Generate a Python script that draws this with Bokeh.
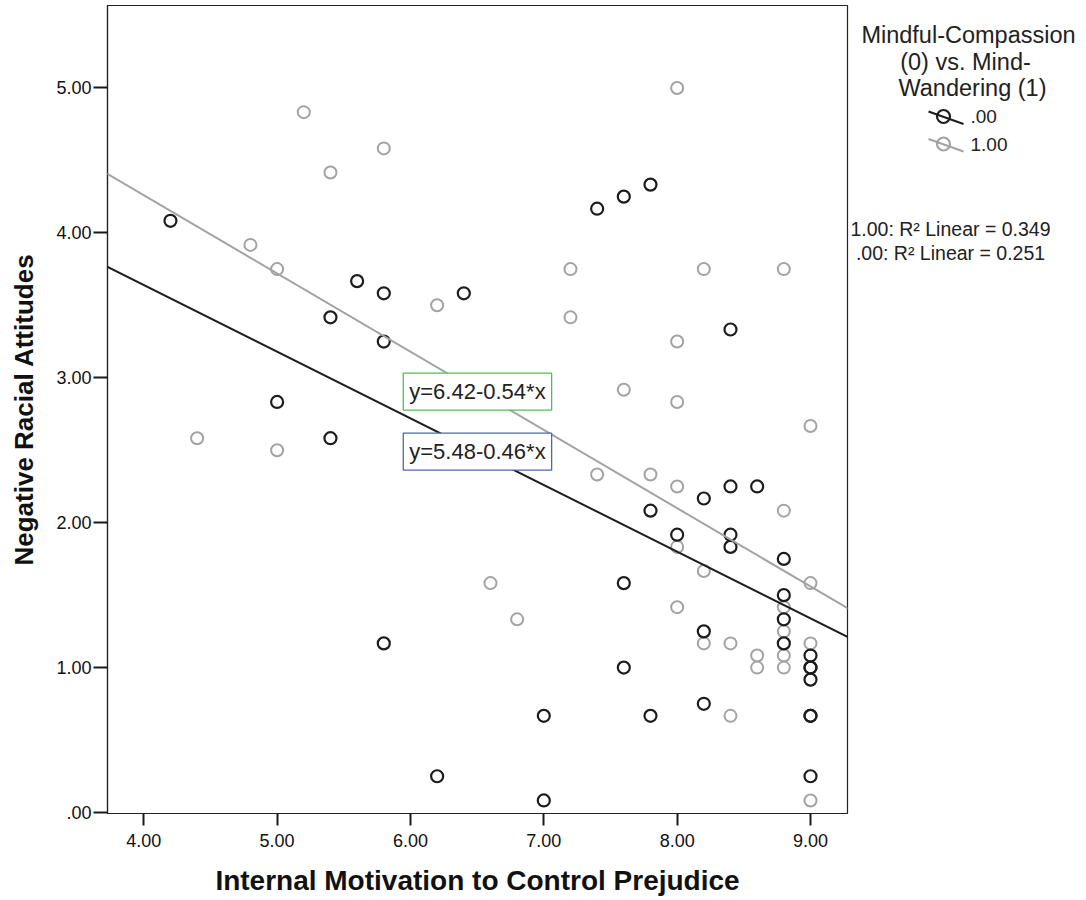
from bokeh.plotting import figure
from bokeh.models import Range1d, FixedTicker, Slope, Label
from bokeh.layouts import row
from bokeh.embed import file_html
from bokeh.resources import INLINE
from bokeh.core.properties import value

# ---------------- data ----------------
# Group .00 (Mindful-Compassion)
group0_x = [4.2, 5.0, 5.4, 5.4, 5.6, 5.8, 5.8, 5.8, 6.2, 6.4, 7.0, 7.0, 7.4, 7.6, 7.6, 7.6,
            7.8, 7.8, 7.8, 8.0, 8.2, 8.2, 8.2, 8.4, 8.4, 8.4, 8.4, 8.6, 8.8, 8.8, 8.8, 8.8,
            9.0, 9.0, 9.0, 9.0, 9.0, 9.0, 9.0]
group0_y = [4.083, 2.833, 3.417, 2.583, 3.667, 3.583, 3.25, 1.167, 0.25, 3.583, 0.667, 0.083,
            4.167, 4.25, 1.583, 1.0, 4.333, 2.083, 0.667, 1.917, 2.167, 1.25, 0.75, 3.333,
            2.25, 1.917, 1.833, 2.25, 1.75, 1.5, 1.333, 1.167, 1.083, 1.0, 1.0, 0.917,
            0.667, 0.667, 0.25]

# Group 1.00 (Mind-Wandering)
group1_x = [4.4, 4.8, 5.0, 5.0, 5.2, 5.4, 5.8, 6.2, 6.6, 6.8, 7.2, 7.2, 7.4, 7.6, 7.8,
            8.0, 8.0, 8.0, 8.0, 8.0, 8.0, 8.2, 8.2, 8.2, 8.4, 8.4, 8.6, 8.6,
            8.8, 8.8, 8.8, 8.8, 8.8, 8.8, 9.0, 9.0, 9.0, 9.0]
group1_y = [2.583, 3.917, 3.75, 2.5, 4.833, 4.417, 4.583, 3.5, 1.583, 1.333, 3.75, 3.417,
            2.333, 2.917, 2.333, 5.0, 3.25, 2.833, 2.25, 1.833, 1.417, 3.75, 1.667, 1.167,
            1.167, 0.667, 1.083, 1.0, 3.75, 2.083, 1.417, 1.25, 1.083, 1.0, 2.667, 1.583,
            1.167, 0.083]

# Linear fits (from the chart's equations)
fit0_intercept, fit0_slope = 5.48, -0.46
fit1_intercept, fit1_slope = 6.42, -0.54
fit0_text = "y=5.48-0.46*x"
fit1_text = "y=6.42-0.54*x"
r2_labels = ["1.00", ".00"]
r2_values = [0.349, 0.251]

x_ticks = [4, 5, 6, 7, 8, 9]
x_tick_labels = ["4.00", "5.00", "6.00", "7.00", "8.00", "9.00"]
y_ticks = [0, 1, 2, 3, 4, 5]
y_tick_labels = [".00", "1.00", "2.00", "3.00", "4.00", "5.00"]

x_title = "Internal Motivation to Control Prejudice"
y_title = "Negative Racial Attitudes"
legend_title_lines = ["Mindful-Compassion", "(0) vs. Mind-", "Wandering (1)"]
group_labels = [".00", "1.00"]

BLACK = "#1c1c1c"
GRAY = "#a3a3a3"
TXT = "#222222"
FONT = "Liberation Sans"

# canvas geometry (page has no margin in Bokeh's template)
H = 900
TOP_B, BOT_B = 5, 87
FRAME_TOP = TOP_B
FRAME_BOT = H - BOT_B
MAIN_W = 849

# ---------------- main plot ----------------
p = figure(width=MAIN_W, height=H,
           x_range=Range1d(3.728, 9.2775), y_range=Range1d(-0.0069, 5.569),
           output_backend="svg", toolbar_location=None,
           min_border_left=107, min_border_right=2, min_border_top=TOP_B,
           min_border_bottom=BOT_B)
p.grid.visible = False
p.outline_line_color = "#222222"
p.outline_line_width = 1.2
p.background_fill_color = "white"

p.xaxis.ticker = FixedTicker(ticks=x_ticks)
p.xaxis.major_label_overrides = dict(zip(x_ticks, x_tick_labels))
p.yaxis.ticker = FixedTicker(ticks=y_ticks)
p.yaxis.major_label_overrides = dict(zip(y_ticks, y_tick_labels))

for ax in (p.xaxis, p.yaxis):
    ax.minor_tick_line_color = None
    ax.major_tick_in = 0
    ax.major_tick_line_color = "#1a1a1a"
    ax.major_tick_line_width = 2
    ax.axis_line_color = "#222222"
    ax.axis_line_width = 1.2
    ax.major_label_text_font = FONT
    ax.major_label_text_color = "#111111"
    ax.axis_label_text_font = FONT
    ax.axis_label_text_font_style = "bold"
    ax.axis_label_text_color = "#111111"

p.xaxis.major_tick_out = 12
p.xaxis.major_label_standoff = 8
p.xaxis.major_label_text_font_size = "18px"
p.xaxis.axis_label = x_title
p.xaxis.axis_label_text_font_size = "28px"
p.xaxis.axis_label_standoff = 15

p.yaxis.major_tick_out = 14
p.yaxis.major_label_standoff = 2
p.yaxis.major_label_text_font_size = "18px"
p.yaxis.axis_label = y_title
p.yaxis.axis_label_text_font_size = "26px"
p.yaxis.axis_label_standoff = 14

p.scatter(group1_x, group1_y, marker="circle", size=12, fill_color=None,
          line_color=GRAY, line_width=2)
p.scatter(group0_x, group0_y, marker="circle", size=12, fill_color=None,
          line_color=BLACK, line_width=2.2)

p.add_layout(Slope(gradient=fit0_slope, y_intercept=fit0_intercept,
                   line_color=BLACK, line_width=2))
p.add_layout(Slope(gradient=fit1_slope, y_intercept=fit1_intercept,
                   line_color=GRAY, line_width=2))

p.add_layout(Label(x=5.946, y=2.905, text=fit1_text, text_align="left",
                   text_baseline="middle", text_font=FONT, text_font_size="22px",
                   text_color=TXT, background_fill_color="white",
                   border_line_color="#4fbf55", border_line_width=1.3, padding=6))
p.add_layout(Label(x=5.946, y=2.491, text=fit0_text, text_align="left",
                   text_baseline="middle", text_font=FONT, text_font_size="22px",
                   text_color=TXT, background_fill_color="white",
                   border_line_color="#4a68b5", border_line_width=1.3, padding=6))

# ---------------- side panel (legend + R2) ----------------
# its frame is aligned with the main frame, so map page pixels onto that frame
s = figure(width=1086 - MAIN_W, height=H, x_range=Range1d(MAIN_W, 1086),
           y_range=Range1d(FRAME_BOT, FRAME_TOP),
           output_backend="svg", toolbar_location=None, x_axis_type=None,
           y_axis_type=None, min_border=0, min_border_top=TOP_B,
           min_border_bottom=BOT_B)
s.grid.visible = False
s.outline_line_color = None

s.text(x=[968, 965, 972], y=[34, 61, 87], text=legend_title_lines,
       text_align="center", text_baseline="middle", text_font=value(FONT),
       text_font_size="23.5px", text_color=TXT)

s.segment(x0=[928, 928], y0=[111, 138.5], x1=[963, 963], y1=[123.5, 151],
          line_color=[BLACK, GRAY], line_width=2)
s.scatter(x=[943, 943], y=[116, 143.5], marker="circle", size=13, fill_color=None,
          line_color=[BLACK, GRAY], line_width=2.2)
s.text(x=[970, 970], y=[116, 143.5], text=group_labels, text_align="left",
       text_baseline="middle", text_font=value(FONT), text_font_size="19px",
       text_color=TXT)

r2_texts = [f"{g}: R\u00b2 Linear = {v:.3f}" for g, v in zip(r2_labels, r2_values)]
s.text(x=[950, 950], y=[228, 252], text=r2_texts, text_align="center",
       text_baseline="middle", text_font=value(FONT), text_font_size="19.5px",
       text_color=TXT)

layout = row(p, s)
open("out.html", "w").write(file_html(layout, INLINE))
